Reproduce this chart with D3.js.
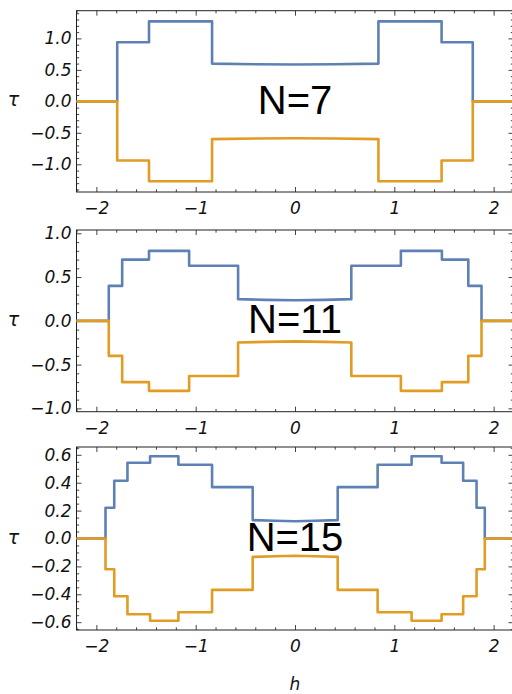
<!DOCTYPE html>
<html>
<head>
<meta charset="utf-8">
<script src="https://cdn.jsdelivr.net/npm/d3@7"></script>
<style>
  body { margin: 0; background: #fff; }
  .tick text { font-family: "DejaVu Sans", sans-serif; font-style: italic; font-size: 17px; fill: #111; }
</style>
</head>
<body>
<svg id="chart" width="512" height="694"></svg>
<script>
// step boundaries (h) and step levels (tau)
const h7 = [-2.2, -1.79, -1.47, -0.835, 0.84, 1.476, 1.79, 2.2];
const up7 = [0, 0.94, 1.27, 0.6, 1.27, 0.94, 0];
const lo7 = [0, -0.94, -1.27, -0.6, -1.27, -0.94, 0];
const midH7 = [-0.835, -0.4, 0, 0.4, 0.84];
const midUp7 = [0.6, 0.59, 0.585, 0.59, 0.6];
const midLo7 = [-0.6, -0.59, -0.585, -0.59, -0.6];

const h11 = [-2.2, -1.875, -1.74, -1.47, -1.066, -0.573, 0.567, 1.066, 1.479, 1.745, 1.878, 2.2];
const up11 = [0, 0.4, 0.7, 0.8, 0.63, 0.25, 0.63, 0.8, 0.7, 0.4, 0];
const lo11 = [0, -0.4, -0.7, -0.8, -0.63, -0.25, -0.63, -0.8, -0.7, -0.4, 0];
const midH11 = [-0.573, -0.3, 0, 0.3, 0.567];
const midUp11 = [0.248, 0.24, 0.235, 0.24, 0.248];
const midLo11 = [-0.248, -0.24, -0.235, -0.24, -0.248];

const h15 = [-2.2, -1.908, -1.82, -1.687, -1.459, -1.174, -0.835, -0.426, 0.43, 0.832, 1.174, 1.476, 1.693, 1.828, 1.911, 2.2];
const up15 = [0, 0.22, 0.414, 0.543, 0.59, 0.529, 0.368, 0.131, 0.368, 0.529, 0.59, 0.543, 0.414, 0.22, 0];
const lo15 = [0, -0.22, -0.414, -0.543, -0.59, -0.529, -0.368, -0.131, -0.368, -0.529, -0.59, -0.543, -0.414, -0.22, 0];
const midH15 = [-0.426, -0.2, 0, 0.2, 0.43];
const midUp15 = [0.132, 0.127, 0.124, 0.127, 0.132];
const midLo15 = [-0.132, -0.127, -0.124, -0.127, -0.132];

const labels = ["N=7", "N=11", "N=15"];
const xTicks = [-2, -1, 0, 1, 2];
const yTicks7 = [-1, -0.5, 0, 0.5, 1];
const yTicks11 = [-1, -0.5, 0, 0.5, 1];
const yTicks15 = [-0.6, -0.4, -0.2, 0, 0.2, 0.4, 0.6];

const blue = "#5E81B5", orange = "#E19C24";

const panels = [
  { label: labels[0], h: h7, up: up7, lo: lo7, midH: midH7, midUp: midUp7, midLo: midLo7,
    ymax: 1.44, top: 10.7, bottom: 192, yTicks: yTicks7, yMinorStep: 0.1, fmt: d3.format(".1f") },
  { label: labels[1], h: h11, up: up11, lo: lo11, midH: midH11, midUp: midUp11, midLo: midLo11,
    ymax: 1.038, top: 230, bottom: 411.7, yTicks: yTicks11, yMinorStep: 0.1, fmt: d3.format(".1f") },
  { label: labels[2], h: h15, up: up15, lo: lo15, midH: midH15, midUp: midUp15, midLo: midLo15,
    ymax: 0.656, top: 447, bottom: 630, yTicks: yTicks15, yMinorStep: 0.05, fmt: d3.format(".1f") }
];

const svg = d3.select("#chart");
const xScale = d3.scaleLinear().domain([-2.2, 2.2]).range([76.5, 513.5]);
const xMinor = d3.range(-2.2, 2.21, 0.2).map(v => +v.toFixed(2)).filter(v => !xTicks.includes(v));

function stepPoints(p, levels, mid) {
  const pts = [];
  const midIndex = Math.floor(levels.length / 2);
  levels.forEach((v, i) => {
    if (i === midIndex) {
      p.midH.forEach((hh, j) => pts.push([hh, mid[j]]));
    } else {
      pts.push([p.h[i], v]);
      pts.push([p.h[i + 1], v]);
    }
  });
  return pts;
}

function styleAxis(g) {
  g.select(".domain").remove();
  g.selectAll(".tick line").attr("stroke", "#444").attr("stroke-width", 1);
}

panels.forEach((p, k) => {
  const yScale = d3.scaleLinear().domain([-p.ymax, p.ymax]).range([p.bottom, p.top]);
  const yMinor = d3.range(-Math.floor(p.ymax / p.yMinorStep) * p.yMinorStep, p.ymax, p.yMinorStep)
    .map(v => +v.toFixed(3))
    .filter(v => !p.yTicks.some(t => Math.abs(t - v) < 1e-6));
  const g = svg.append("g").attr("class", "panel");
  const left = xScale.range()[0], right = xScale.range()[1];

  // minor ticks
  g.append("g").attr("transform", `translate(${left},0)`)
    .call(d3.axisLeft(yScale).tickValues(yMinor).tickSize(-2.7).tickFormat(""))
    .call(styleAxis);
  g.append("g").attr("transform", `translate(${right},0)`)
    .call(d3.axisRight(yScale).tickValues(yMinor).tickSize(-2.7).tickFormat(""))
    .call(styleAxis);
  g.append("g").attr("transform", `translate(0,${p.bottom})`)
    .call(d3.axisBottom(xScale).tickValues(xMinor).tickSize(-2.7).tickFormat(""))
    .call(styleAxis);
  g.append("g").attr("transform", `translate(0,${p.top})`)
    .call(d3.axisTop(xScale).tickValues(xMinor).tickSize(-2.7).tickFormat(""))
    .call(styleAxis);

  // major ticks
  g.append("g").attr("transform", `translate(${left},0)`)
    .call(d3.axisLeft(yScale).tickValues(p.yTicks).tickSize(-5).tickPadding(5).tickFormat(p.fmt))
    .call(styleAxis);
  g.append("g").attr("transform", `translate(${right},0)`)
    .call(d3.axisRight(yScale).tickValues(p.yTicks).tickSize(-5).tickFormat(""))
    .call(styleAxis);
  g.append("g").attr("transform", `translate(0,${p.bottom})`)
    .call(d3.axisBottom(xScale).tickValues(xTicks).tickSize(-5).tickPadding(10).tickFormat(d3.format("d")))
    .call(styleAxis);
  g.append("g").attr("transform", `translate(0,${p.top})`)
    .call(d3.axisTop(xScale).tickValues(xTicks).tickSize(-5).tickFormat(""))
    .call(styleAxis);

  g.append("rect")
    .attr("x", left).attr("y", p.top)
    .attr("width", right - left).attr("height", p.bottom - p.top)
    .attr("fill", "none").attr("stroke", "#222").attr("stroke-width", 1);

  const line = d3.line().x(d => xScale(d[0])).y(d => yScale(d[1]));

  g.append("path")
    .attr("d", line(stepPoints(p, p.up, p.midUp)))
    .attr("fill", "none").attr("stroke", blue).attr("stroke-width", 2.6)
    .attr("stroke-linejoin", "round");
  g.append("path")
    .attr("d", line(stepPoints(p, p.lo, p.midLo)))
    .attr("fill", "none").attr("stroke", orange).attr("stroke-width", 2.6)
    .attr("stroke-linejoin", "round");

  g.append("text")
    .text(p.label)
    .attr("x", xScale(0))
    .attr("y", yScale(0) + 12.5)
    .attr("text-anchor", "middle")
    .attr("font-family", "Liberation Sans, Arial, sans-serif")
    .attr("font-size", 40)
    .attr("fill", "#000");

  g.append("text")
    .text("τ")
    .attr("x", 13.5)
    .attr("y", yScale(0) + 5)
    .attr("text-anchor", "middle")
    .attr("font-family", "DejaVu Sans, sans-serif")
    .attr("font-style", "italic")
    .attr("font-size", 19)
    .attr("fill", "#111");
});

svg.append("text")
  .text("h")
  .attr("x", xScale(0))
  .attr("y", 690)
  .attr("text-anchor", "middle")
  .attr("font-family", "DejaVu Sans, sans-serif")
  .attr("font-style", "italic")
  .attr("font-size", 17)
  .attr("fill", "#111");
</script>
</body>
</html>
